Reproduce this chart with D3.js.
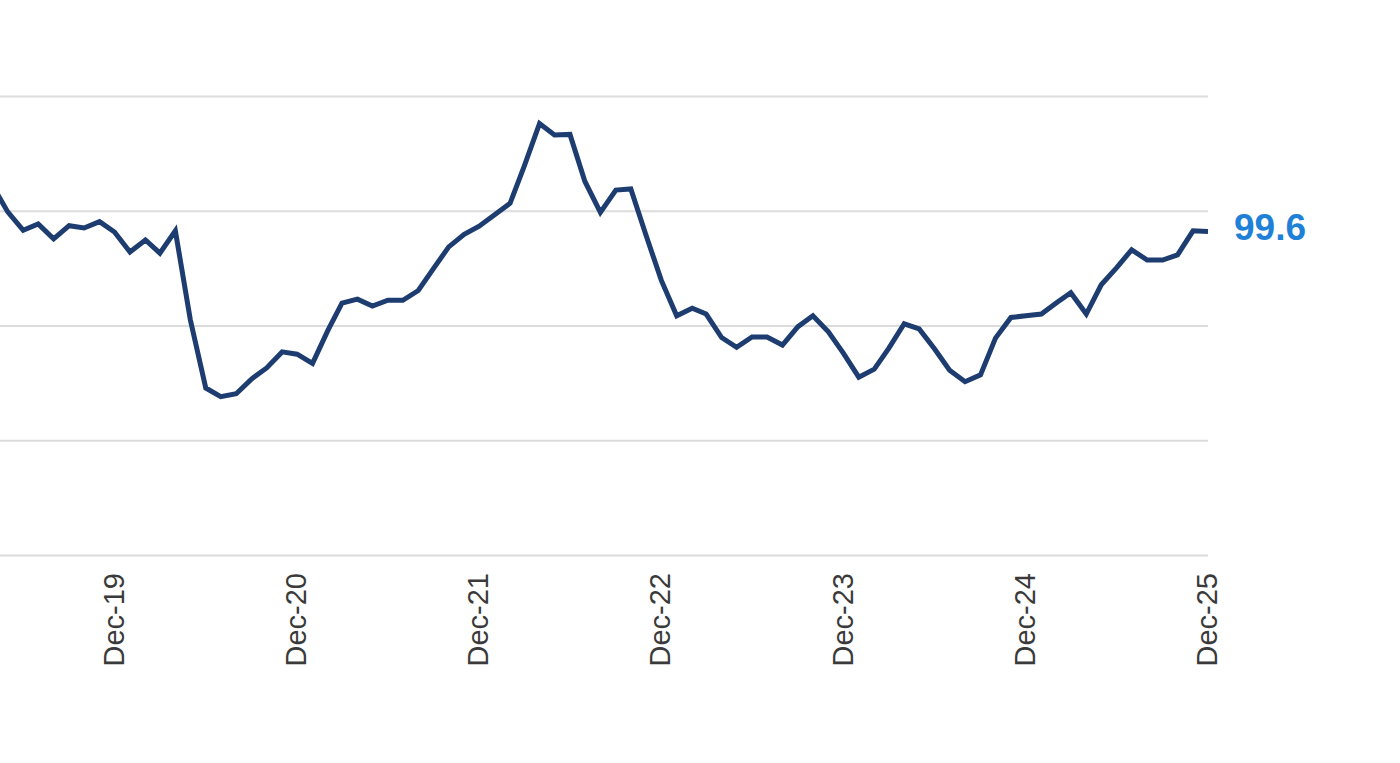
<!DOCTYPE html>
<html>
<head>
<meta charset="utf-8">
<script src="https://cdn.jsdelivr.net/npm/d3@7"></script>
<style>
  html, body { margin: 0; padding: 0; background: #fff; }
  svg { display: block; }
</style>
</head>
<body>
<svg id="chart"></svg>
<script>
// monthly index values, Apr-19 .. Dec-25
const startMonth = "2019-04";
const values = [
  100.43, 99.98, 99.66, 99.77, 99.51, 99.74, 99.70, 99.81, 99.63, 99.28, 99.49, 99.26,
  99.65, 98.10, 96.91, 96.76, 96.81, 97.07, 97.26, 97.54, 97.50, 97.34, 97.92, 98.39,
  98.46, 98.34, 98.44, 98.44, 98.61, 99.00, 99.37, 99.59, 99.73, 99.93, 100.13, 100.77,
  101.52, 101.32, 101.33, 100.51, 99.97, 100.36, 100.38, 99.56, 98.79, 98.17, 98.30, 98.20,
  97.79, 97.62, 97.80, 97.80, 97.66, 97.98, 98.17, 97.89, 97.52, 97.10, 97.24, 97.60,
  98.03, 97.94, 97.59, 97.22, 97.02, 97.14, 97.78, 98.14, 98.17, 98.20, 98.40, 98.57,
  98.20, 98.71, 99.01, 99.32, 99.14, 99.14, 99.23, 99.65, 99.64
];
const xTicks = ["2019-12", "2020-12", "2021-12", "2022-12", "2023-12", "2024-12", "2025-12"];
const yTicks = [94, 96, 98, 100, 102];

const width = 1400, height = 763;
const parse = d3.timeParse("%Y-%m");
const start = parse(startMonth);
const data = values.map((v, i) => ({ date: d3.timeMonth.offset(start, i), value: v }));

const svg = d3.select("#chart")
  .attr("width", width)
  .attr("height", height);

const plotRight = 1208;

const x = d3.scaleTime()
  .domain([parse(xTicks[0]), parse(xTicks[xTicks.length - 1])])
  .range([114.5, plotRight]);

const y = d3.scaleLinear()
  .domain([94, 102])
  .range([555, 96]);

// gridlines
const grid = svg.append("g")
  .attr("transform", `translate(${plotRight},0)`)
  .call(d3.axisLeft(y).tickValues(yTicks).tickSize(plotRight + 20).tickFormat(""));
grid.select(".domain").remove();
grid.selectAll("line")
  .attr("stroke", "#dcdcdc")
  .attr("stroke-width", 2);

// x axis
const xAxis = svg.append("g")
  .attr("transform", `translate(0,${y(94)})`)
  .call(d3.axisBottom(x)
    .tickValues(xTicks.map(parse))
    .tickSize(0)
    .tickFormat(d3.timeFormat("%b-%y")));
xAxis.select(".domain").remove();
xAxis.selectAll("text")
  .attr("transform", "rotate(-90)")
  .attr("text-anchor", "end")
  .attr("x", -18)
  .attr("y", 0)
  .attr("dy", "0.3em")
  .attr("fill", "#3a3a3a")
  .style("font-family", "'Liberation Sans', Arial, sans-serif")
  .style("font-size", "29px");

// line
const line = d3.line()
  .x(d => x(d.date))
  .y(d => y(d.value));

svg.append("path")
  .datum(data)
  .attr("d", line)
  .attr("fill", "none")
  .attr("stroke", "#1d3c70")
  .attr("stroke-width", 5);

// last value label
const last = data[data.length - 1];
svg.append("text")
  .attr("x", x(last.date) + 26)
  .attr("y", y(last.value))
  .attr("dy", "0.22em")
  .attr("fill", "#1f80d8")
  .style("font-family", "'Liberation Sans', Arial, sans-serif")
  .style("font-size", "37px")
  .style("font-weight", "bold")
  .text(d3.format(".1f")(last.value));
</script>
</body>
</html>
